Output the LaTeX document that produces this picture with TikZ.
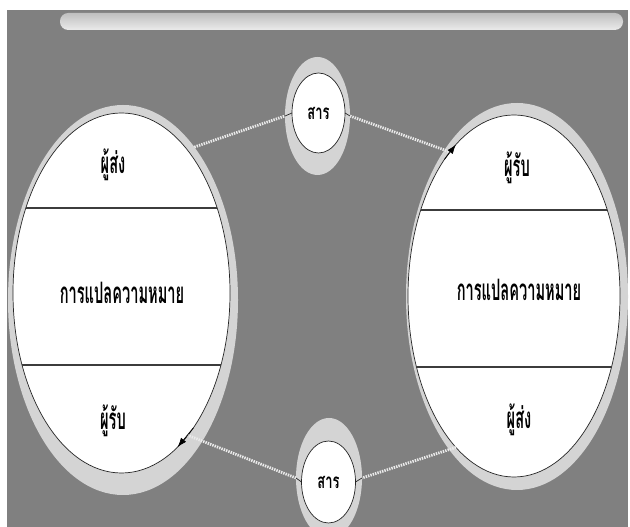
\documentclass[tikz,border=0pt]{standalone}
\usepackage{fontspec}
\newfontfamily\thaifont[Script=Thai]{Loma}
\usetikzlibrary{shapes.geometric,arrows.meta}

\begin{document}
\begin{tikzpicture}[x=0.3mm,y=0.3mm]

% ------------------------------------------------ colours
\definecolor{cm_bg}{RGB}{128,128,128}
\definecolor{cm_ring}{RGB}{212,212,212}
\definecolor{cm_line}{RGB}{60,60,60}

\tikzset{
  ring/.style={ellipse,fill=cm_ring,inner sep=0pt,outer sep=0pt},
  face/.style={ellipse,fill=white,draw=black!85,line width=0.6pt,inner sep=0pt,outer sep=0pt},
  divider/.style={draw=cm_line,line width=1.4pt},
  msgline/.style={draw=white!92!black,line width=2.4pt,dash pattern=on 1.2pt off 0.9pt},
  tickline/.style={draw=black!85,line width=0.6pt},
  tipline/.style={-{Latex[length=8pt,width=5.5pt]},black,line width=0.6pt},
  bigtxt/.style={font=\thaifont\bfseries\fontsize{12}{14}\selectfont},
  msgtxt/.style={font=\thaifont\bfseries\fontsize{11}{13}\selectfont},
}
\newcommand{\tall}[1]{\scalebox{1.04}[2.1]{#1}}

\useasboundingbox (0,0) rectangle (630,527);
\fill[white] (0,0) rectangle (630,527);
\fill[cm_bg] (7,0) rectangle (628,517);

% top bar
\shade[top color=black!25,middle color=white,bottom color=black!8,rounded corners=7] (60,497) rectangle (623,514);

% left circle
\node[ring,minimum width=69mm,minimum height=117mm] (lring) at (123,227) {};
\node[face,minimum width=65.1mm,minimum height=108mm] (lcirc) at (121.5,234) {};
\begin{scope}
  \clip (121.5,234) ellipse [x radius=32.55mm,y radius=54mm];
  \draw[divider] (0,319) -- (260,319) (0,162) -- (260,162);
\end{scope}
\node[bigtxt] (lsend) at (113,362) {\tall{ผู้ส่ง}};
\node[bigtxt] (lmean) at (122,234) {\tall{การแปลความหมาย}};
\node[bigtxt] (lrecv) at (113,106) {\tall{ผู้รับ}};

% right circle
\node[ring,minimum width=66.6mm,minimum height=116.1mm] (rring) at (517,230.5) {};
\node[face,minimum width=63.6mm,minimum height=108.6mm] (rcirc) at (514,231) {};
\begin{scope}
  \clip (514,231) ellipse [x radius=31.8mm,y radius=54.3mm];
  \draw[divider] (380,317) -- (640,317) (380,160) -- (640,160);
\end{scope}
\node[bigtxt] (rrecv) at (517,359) {\tall{ผู้รับ}};
\node[bigtxt] (rmean) at (519,237) {\tall{การแปลความหมาย}};
\node[bigtxt] (rsend) at (519,107) {\tall{ผู้ส่ง}};

% messages
\node[ring,minimum width=19.5mm,minimum height=35.4mm] (tring) at (317.5,411) {};
\node[ring,minimum width=19.8mm,minimum height=36mm] (bring) at (329,49) {};

\draw[msgline] (lring.65) -- (tring.west);
\draw[msgline] (tring.east) -- (rcirc.114);
\draw[msgline] (rcirc.249) -- (bring.east);
\draw[msgline] (bring.west) -- (lcirc.295);

\node[face,minimum width=15.9mm,minimum height=24mm] (tmsg) at (318.5,414) {};
\node[face,minimum width=16.2mm,minimum height=24.6mm] (bmsg) at (328.5,45) {};
\node[msgtxt] at (tmsg.center) {\scalebox{1}[1.6]{สาร}};
\node[msgtxt] at (bmsg.center) {\scalebox{1}[1.6]{สาร}};

\draw[tickline] (tring.west) -- (tmsg.west);
\draw[tickline] (tmsg.east) -- (tring.east);
\draw[tickline] (bring.west) -- (bmsg.west);
\draw[tickline] (bmsg.east) -- (bring.east);

% arrow tips on the circles
\draw[tipline] (rcirc.117) -- (rcirc.111);
\draw[tipline] (lcirc.298) -- (lcirc.290);

\end{tikzpicture}
\end{document}
